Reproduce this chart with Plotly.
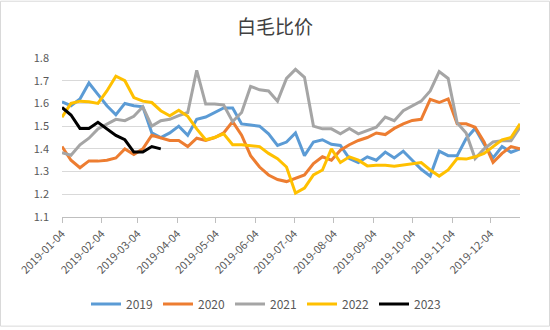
import pandas as pd
import plotly.graph_objects as go

start_date = "2019-01-04"
end_date = "2019-12-27"
tick_dates = ["2019-01-04", "2019-02-04", "2019-03-04", "2019-04-04", "2019-05-04", "2019-06-04",
              "2019-07-04", "2019-08-04", "2019-09-04", "2019-10-04", "2019-11-04", "2019-12-04"]

s2019 = [1.607, 1.59, 1.62, 1.69, 1.64, 1.59, 1.55, 1.60, 1.59, 1.585,
         1.47, 1.45, 1.47, 1.50, 1.46, 1.53, 1.54, 1.56, 1.58, 1.58,
         1.51, 1.505, 1.50, 1.466, 1.415, 1.43, 1.47, 1.37, 1.43, 1.44,
         1.42, 1.415, 1.357, 1.34, 1.365, 1.35, 1.386, 1.36, 1.39, 1.35,
         1.31, 1.28, 1.39, 1.37, 1.37, 1.445, 1.49, 1.42, 1.36, 1.41,
         1.385, 1.40]
s2020 = [1.41, 1.35, 1.317, 1.347, 1.346, 1.35, 1.36, 1.40, 1.375, 1.40,
         1.46, 1.447, 1.437, 1.437, 1.41, 1.447, 1.437, 1.45, 1.47, 1.52,
         1.46, 1.37, 1.32, 1.285, 1.265, 1.256, 1.27, 1.285, 1.335, 1.365,
         1.35, 1.394, 1.418, 1.437, 1.45, 1.47, 1.463, 1.49, 1.51, 1.525,
         1.53, 1.618, 1.604, 1.62, 1.51, 1.51, 1.495, 1.43, 1.34, 1.38,
         1.41, 1.40]
s2021 = [1.383, 1.372, 1.418, 1.447, 1.488, 1.51, 1.53, 1.524, 1.543, 1.585,
         1.50, 1.524, 1.53, 1.546, 1.56, 1.746, 1.597, 1.597, 1.593, 1.52,
         1.56, 1.675, 1.66, 1.655, 1.61, 1.71, 1.75, 1.715, 1.50, 1.488,
         1.488, 1.466, 1.49, 1.466, 1.48, 1.495, 1.54, 1.524, 1.568, 1.59,
         1.61, 1.655, 1.74, 1.71, 1.515, 1.47, 1.357, 1.40, 1.43, 1.436,
         1.436, 1.495]
s2022 = [1.539, 1.60, 1.61, 1.607, 1.60, 1.655, 1.72, 1.70, 1.626, 1.61,
         1.604, 1.568, 1.546, 1.57, 1.543, 1.488, 1.44, 1.45, 1.466, 1.418,
         1.418, 1.415, 1.41, 1.38, 1.357, 1.32, 1.205, 1.227, 1.285, 1.307,
         1.40, 1.34, 1.365, 1.35, 1.325, 1.328, 1.328, 1.324, 1.33, 1.336,
         1.34, 1.307, 1.28, 1.307, 1.357, 1.355, 1.365, 1.38, 1.41, 1.44,
         1.45, 1.51]
s2023 = [1.582, 1.549, 1.49, 1.49, 1.517, 1.488, 1.459, 1.44, 1.386, 1.386,
         1.41, 1.40]

series_names = ["2019", "2020", "2021", "2022", "2023"]
series_values = [s2019, s2020, s2021, s2022, s2023]
series_colors = ["#5B9BD5", "#ED7D31", "#A5A5A5", "#FFC000", "#000000"]

dates = pd.date_range(start_date, periods=len(s2019), freq="7D")

fig = go.Figure()
for name, vals, col in zip(series_names, series_values, series_colors):
    fig.add_trace(go.Scatter(
        x=dates[:len(vals)], y=vals, mode="lines", name=name,
        line=dict(color=col, width=3),
    ))

FONT = "Noto Sans CJK SC"
W, H = 550, 330
L, R, T, B = 62, 30, 58, 111
pw, ph = W - L - R, H - T - B

fig.update_layout(
    width=W, height=H,
    margin=dict(l=L, r=R, t=T, b=B, pad=0),
    paper_bgcolor="white", plot_bgcolor="white",
    font=dict(family=FONT, color="#595959", size=11),
    title=dict(text="白毛比价", x=0.5, xanchor="center", y=1 - 27 / H, yanchor="middle",
               font=dict(family=FONT, size=19, color="#404040")),
    showlegend=True,
    legend=dict(orientation="h", x=(86 - L) / pw, xanchor="left",
                y=(H - B - 307) / ph, yanchor="middle",
                font=dict(size=12, color="#595959"), entrywidth=27, entrywidthmode="pixels",
                bgcolor="rgba(0,0,0,0)", itemwidth=30),
    xaxis=dict(
        type="date", range=[start_date, end_date],
        tickmode="array", tickvals=tick_dates, ticktext=tick_dates,
        tickangle=-45, ticks="outside", ticklen=5, tickcolor="#BFBFBF",
        showline=True, linecolor="#BFBFBF", linewidth=1,
        showgrid=False, zeroline=False,
        tickfont=dict(size=11, color="#595959"),
    ),
    yaxis=dict(
        range=[1.1, 1.8], tickmode="linear", tick0=1.1, dtick=0.1, tickformat=".1f",
        showgrid=True, gridcolor="#D9D9D9", gridwidth=1,
        showline=False, zeroline=False, ticks="", ticklabelstandoff=12,
        tickfont=dict(size=11, color="#595959"),
    ),
    shapes=[dict(type="rect", xref="paper", yref="paper",
                 x0=(0.5 - L) / pw, x1=(W - 0.5 - L) / pw,
                 y0=(H - B - (H - 0.5)) / ph, y1=(H - B - 0.5) / ph,
                 line=dict(color="#D9D9D9", width=1), fillcolor="rgba(0,0,0,0)", layer="below")],
)

fig.write_html("out.html")
